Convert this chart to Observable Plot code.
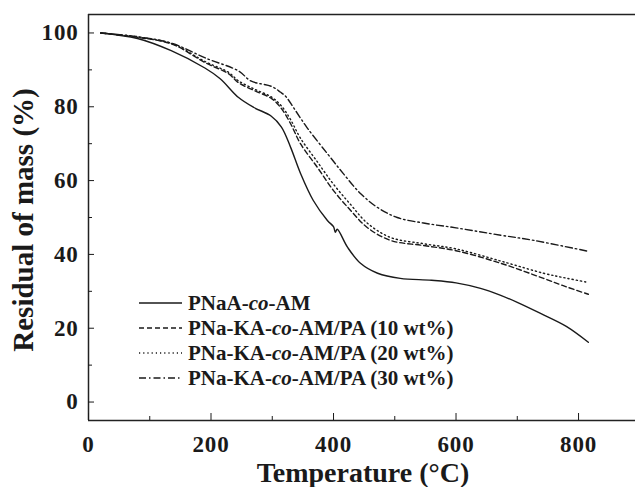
<!DOCTYPE html>
<html>
<head>
<meta charset="utf-8">
<script src="https://cdn.jsdelivr.net/npm/d3@7"></script>
<script src="https://cdn.jsdelivr.net/npm/@observablehq/plot@0.6"></script>
<style>
  html, body { margin: 0; padding: 0; background: #fff; }
  #chart { width: 635px; height: 487px; overflow: hidden; }
</style>
</head>
<body>
<div id="chart"></div>
<script>
// Series names (legend order)
const seriesNames = [
  "PNaA-co-AM",
  "PNa-KA-co-AM/PA (10 wt%)",
  "PNa-KA-co-AM/PA (20 wt%)",
  "PNa-KA-co-AM/PA (30 wt%)"
];

// PNaA-co-AM (solid)
const tempA = [20, 80, 135, 190, 215, 245, 270, 298, 315, 330, 346, 367, 390, 400, 403, 406, 423, 444, 472, 509, 560, 600, 640, 673, 700, 738, 780, 816];
const massA = [100, 98.5, 95.2, 90.5, 87.6, 82.5, 79.8, 77.5, 74.5, 69, 62, 54.6, 49.2, 47.5, 46.0, 46.8, 41.9, 37.6, 34.9, 33.5, 33.0, 32.3, 30.8, 28.9, 27.0, 24.0, 20.5, 16.2];

// 10 wt% (dashed)
const tempB = [20, 80, 136, 191, 229, 245, 272, 299, 315, 330, 346, 374, 400, 428, 455, 493, 547, 600, 673, 743, 782, 816];
const massB = [100, 98.8, 97.0, 91.9, 88.9, 86.5, 84.3, 82.2, 79.5, 75.4, 70.0, 63.5, 57.3, 51.9, 47.3, 43.8, 42.4, 41.0, 37.6, 33.5, 31.1, 29.2];

// 20 wt% (dotted)
const tempC = [20, 80, 136, 191, 229, 245, 272, 299, 315, 330, 346, 374, 400, 428, 455, 493, 547, 600, 673, 743, 782, 816];
const massC = [100, 98.9, 97.1, 92.2, 89.3, 87.0, 84.7, 82.6, 80.2, 76.5, 71.5, 65.0, 59.0, 53.5, 48.5, 44.6, 42.9, 41.5, 38.2, 34.9, 33.5, 32.4];

// 30 wt% (dash-dot)
const tempD = [20, 80, 136, 191, 245, 265, 299, 313, 322, 335, 357, 390, 416, 444, 472, 504, 547, 600, 673, 727, 817];
const massD = [100, 99.0, 97.2, 93.2, 89.7, 87.0, 85.5, 84.0, 82.8, 79.7, 74.3, 67.3, 61.9, 56.5, 52.7, 50.0, 48.5, 47.2, 45.2, 43.8, 40.8];

// Tick values
const xTicks = [0, 200, 400, 600, 800];
const xMinor = [100, 300, 500, 700];
const yTicks = [0, 20, 40, 60, 80, 100];
const yMinor = [10, 30, 50, 70, 90];

const dashes = [null, "5,3", "1.2,3", "7,3,1.5,3"];

const temps = [tempA, tempB, tempC, tempD];
const masses = [massA, massB, massC, massD];
const rows = [];
temps.forEach((ts, i) => ts.forEach((t, j) => rows.push({series: seriesNames[i], idx: i, t, m: masses[i][j]})));

const font = "'Liberation Serif', 'Times New Roman', serif";

const lineMarks = seriesNames.map((name, i) =>
  Plot.line(rows.filter(d => d.idx === i), {
    x: "t", y: "m", stroke: "#1a1a1a", strokeWidth: 1.4,
    strokeDasharray: dashes[i] || undefined, curve: "catmull-rom"
  })
);

const chart = Plot.plot({
  width: 635,
  height: 487,
  marginLeft: 88,
  marginRight: 0,
  marginTop: 14,
  marginBottom: 67,
  style: { fontFamily: font, background: "#fff", color: "#1a1a1a" },
  x: { domain: [0, 893] },
  y: { domain: [-5, 105] },
  marks: [
    Plot.ruleY([105], { stroke: "#222", strokeWidth: 1.5 }),
    Plot.ruleY([-5], { stroke: "#222", strokeWidth: 1.5 }),
    Plot.ruleX([0], { stroke: "#222", strokeWidth: 1.5 }),
    Plot.axisX(xTicks, { tickSize: -7, tickPadding: 22, fontSize: 23, fontWeight: "bold", label: null }),
    Plot.axisX(xMinor, { tickSize: -4, text: null, label: null }),
    Plot.axisY(yTicks, { tickSize: -6, tickPadding: 16, fontSize: 23, fontWeight: "bold", label: null }),
    Plot.axisY(yMinor, { tickSize: -4, text: null, label: null }),
    ...lineMarks
  ]
});

document.getElementById("chart").appendChild(chart);

// Axis titles and in-plot legend
const svg = d3.select(chart);
svg.selectAll("g[aria-label='x-axis tick label'] text, g[aria-label='y-axis tick label'] text")
  .style("letter-spacing", "0.8px");
svg.append("text")
  .attr("x", 363).attr("y", 482)
  .attr("text-anchor", "middle")
  .style("font-family", font).style("font-weight", "bold").style("font-size", "28px")
  .attr("fill", "#1a1a1a")
  .text("Temperature (°C)");
svg.append("text")
  .attr("transform", "translate(33,220) rotate(-90)")
  .attr("text-anchor", "middle")
  .style("font-family", font).style("font-weight", "bold").style("font-size", "29px")
  .attr("fill", "#1a1a1a")
  .text("Residual of mass (%)");

const leg = svg.append("g").attr("text-anchor", "start");
seriesNames.forEach((name, i) => {
  const y = 303 + i * 25;
  leg.append("line")
    .attr("x1", 139).attr("x2", 182).attr("y1", y).attr("y2", y)
    .attr("stroke", "#1a1a1a").attr("stroke-width", 1.3)
    .attr("stroke-dasharray", dashes[i]);
  const t = leg.append("text")
    .attr("x", 188).attr("y", y).attr("dy", "0.35em")
    .attr("text-anchor", "start")
    .style("font-family", font).style("font-weight", "bold").style("font-size", "21px")
    .attr("fill", "#1a1a1a");
  const parts = name.split("co");
  t.append("tspan").text(parts[0]);
  t.append("tspan").style("font-style", "italic").text("co");
  t.append("tspan").text(parts[1]);
});
</script>
</body>
</html>
